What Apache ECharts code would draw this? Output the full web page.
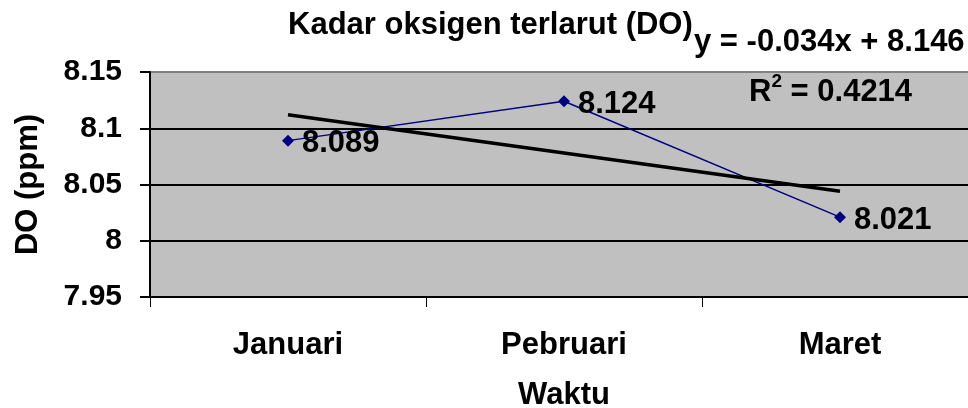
<!DOCTYPE html>
<html>
<head>
<meta charset="utf-8">
<script src="https://cdn.jsdelivr.net/npm/echarts@6/dist/echarts.min.js"></script>
<style>
  html, body { margin: 0; padding: 0; background: #fff; }
  #chart { width: 968px; height: 408px; }
</style>
</head>
<body>
<div id="chart"></div>
<script>
  // data
  var months = ['Januari', 'Pebruari', 'Maret'];
  var doValues = [8.089, 8.124, 8.021];
  // linear trendline y = -0.034x + 8.146 at x = 1, 2, 3
  var trendValues = [8.112, 8.078, 8.044];
  var yTicks = [7.95, 8, 8.05, 8.1, 8.15];

  var font = 'Liberation Sans, Arial, sans-serif';
  var myChart = echarts.init(document.getElementById('chart'));
  var option = {
    animation: false,
    title: {
      text: 'Kadar oksigen terlarut (DO)',
      left: 283,
      top: 5,
      textStyle: { fontFamily: font, fontSize: 31, fontWeight: 'bold', color: '#000' }
    },
    graphic: [{
      type: 'text',
      left: 694,
      top: 27,
      style: { text: 'y = -0.034x + 8.146', font: 'bold 31px ' + font, fill: '#000' }
    }, {
      type: 'text',
      left: 749,
      top: 72,
      style: {
        text: '{r|R}{s|2}{r| = 0.4214}',
        rich: {
          r: { font: 'bold 31px ' + font, fill: '#000', verticalAlign: 'bottom', lineHeight: 36 },
          s: { font: 'bold 19px ' + font, fill: '#000', verticalAlign: 'top', lineHeight: 22 }
        }
      }
    }],
    grid: {
      left: 150,
      right: -10,
      top: 72,
      bottom: 111,
      show: true,
      backgroundColor: '#c0c0c0',
      borderWidth: 0,
      outerBoundsMode: 'none',
      containLabel: false
    },
    xAxis: {
      type: 'category',
      data: months,
      boundaryGap: true,
      name: 'Waktu',
      nameLocation: 'middle',
      nameGap: 83,
      nameTextStyle: { fontFamily: font, fontSize: 31, fontWeight: 'bold', color: '#000' },
      axisLine: { lineStyle: { color: '#000', width: 2 } },
      axisTick: { show: true, length: 10, lineStyle: { color: '#000', width: 1 } },
      axisLabel: { margin: 33, fontFamily: font, fontSize: 31, fontWeight: 'bold', color: '#000' },
      splitLine: { show: false }
    },
    yAxis: {
      type: 'value',
      min: yTicks[0],
      max: yTicks[yTicks.length - 1],
      interval: 0.05,
      name: 'DO (ppm)',
      nameLocation: 'middle',
      nameGap: 106,
      nameTextStyle: { fontFamily: font, fontSize: 31, fontWeight: 'bold', color: '#000' },
      axisLine: { show: true, lineStyle: { color: '#000', width: 2 } },
      axisTick: { show: true, length: 10, lineStyle: { color: '#000', width: 2 } },
      axisLabel: {
        margin: 28,
        fontFamily: font, fontSize: 30, fontWeight: 'bold', color: '#000',
        formatter: function (v) { return String(parseFloat(v.toFixed(2))); }
      },
      splitLine: { show: true, lineStyle: { color: ['#000', '#000', '#000', '#000', '#808080'], width: 2 } }
    },
    series: [{
      name: 'DO',
      type: 'line',
      data: doValues,
      symbol: 'diamond',
      symbolSize: 12,
      lineStyle: { color: '#000080', width: 1.5 },
      itemStyle: { color: '#000080' },
      label: {
        show: true,
        position: 'right',
        distance: 8,
        offset: [0, 3],
        fontFamily: font, fontSize: 31, fontWeight: 'bold', color: '#000'
      },
      z: 3
    }, {
      name: 'Trend',
      type: 'line',
      data: trendValues,
      symbol: 'none',
      lineStyle: { color: '#000', width: 3.5 },
      z: 4
    }]
  };
  myChart.setOption(option);
</script>
</body>
</html>
